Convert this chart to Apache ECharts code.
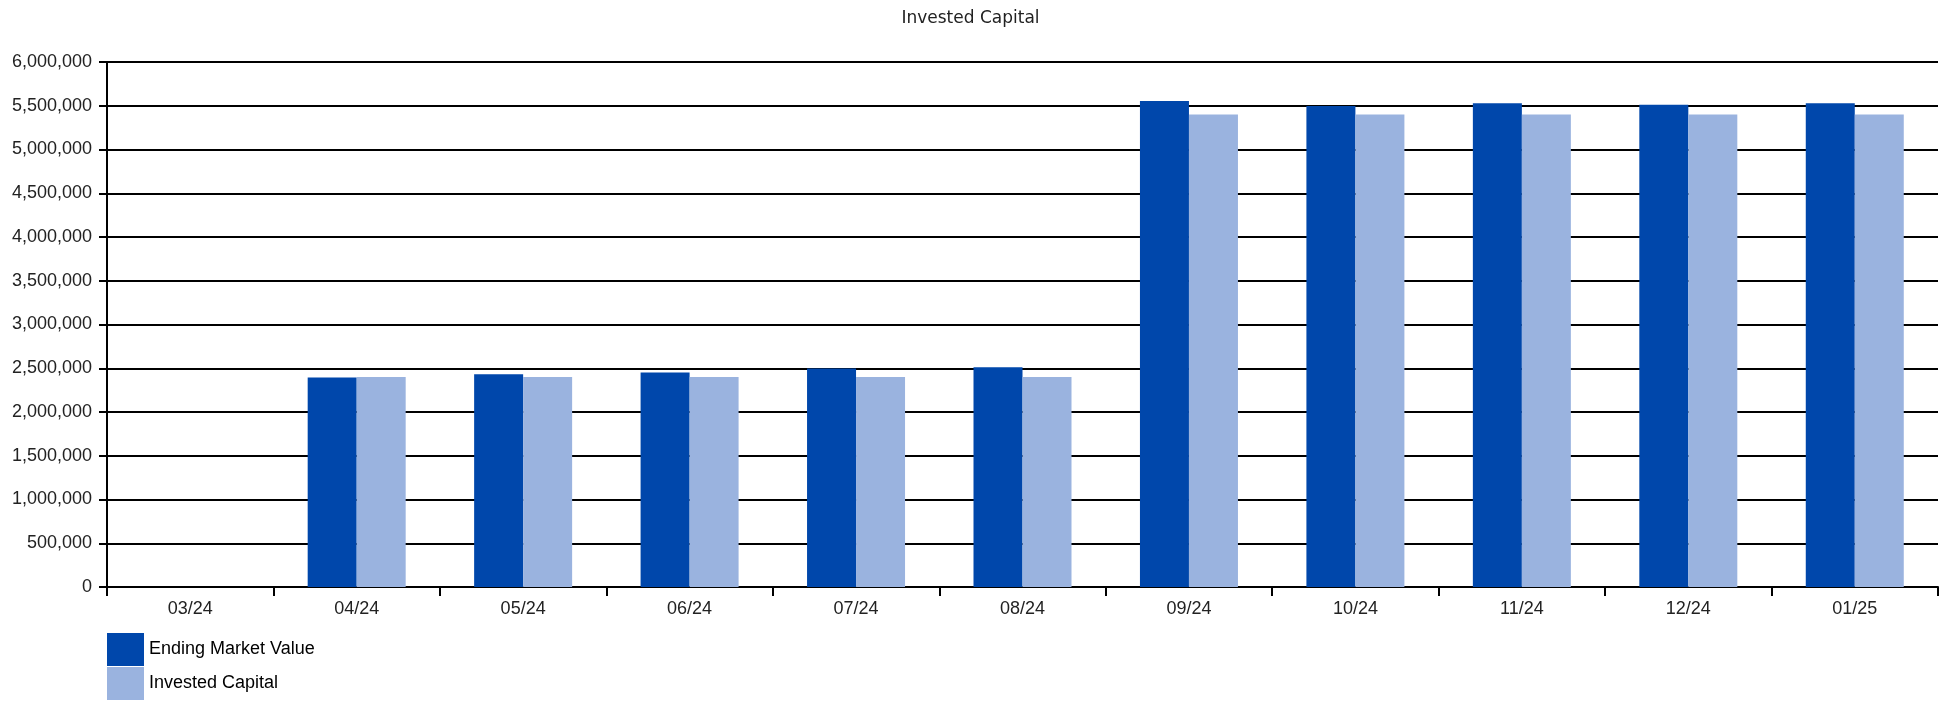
<!DOCTYPE html>
<html>
<head>
<meta charset="utf-8">
<script src="https://cdn.jsdelivr.net/npm/echarts@6/dist/echarts.min.js"></script>
<style>
html,body{margin:0;padding:0;background:#fff;}
#chart{width:1941px;height:702px;}
</style>
</head>
<body>
<div id="chart"></div>
<script>
const categories = ['03/24','04/24','05/24','06/24','07/24','08/24','09/24','10/24','11/24','12/24','01/25'];
const endingMarketValue = [null, 2394000, 2432000, 2451000, 2498000, 2511000, 5553000, 5496000, 5530000, 5511000, 5530000];
const investedCapital = [null, 2400000, 2400000, 2400000, 2400000, 2400000, 5400000, 5400000, 5400000, 5400000, 5400000];
const seriesNames = ['Ending Market Value', 'Invested Capital'];
const titleText = 'Invested Capital';

const chart = echarts.init(document.getElementById('chart'), null, {renderer:'canvas'});
const fmt = v => String(v).replace(/\B(?=(\d{3})+(?!\d))/g, ',');
chart.setOption({
  animation:false,
  backgroundColor:'#ffffff',
  title:{
    text:titleText, left:'center', top:5,
    textStyle:{fontFamily:'DejaVu Sans', fontSize:17, fontWeight:'normal', color:'#222'}
  },
  legend:{
    orient:'vertical', left:107, top:633, padding:0, height:69,
    itemWidth:37, itemHeight:33, itemGap:1,
    icon:'rect',
    textStyle:{fontFamily:'Liberation Sans, Arial', fontSize:18, color:'#000'},
    data:seriesNames
  },
  grid:{left:107, right:3, top:62, bottom:115, containLabel:false},
  xAxis:{
    type:'category', data:categories,
    axisLine:{lineStyle:{color:'#000', width:2}},
    axisTick:{show:true, length:9, lineStyle:{color:'#000', width:2}},
    axisLabel:{fontFamily:'Liberation Sans, Arial', fontSize:18, color:'#222', margin:13}
  },
  yAxis:{
    type:'value', min:0, max:6000000, interval:500000,
    axisLine:{show:true, lineStyle:{color:'#000', width:2}},
    axisTick:{show:true, length:8, lineStyle:{color:'#000', width:2}},
    splitLine:{show:true, lineStyle:{color:'#000', width:2}},
    axisLabel:{fontFamily:'Liberation Sans, Arial', fontSize:18, color:'#222', margin:15, formatter:fmt}
  },
  series:[
    {name:seriesNames[0], type:'bar', data:endingMarketValue, barWidth:49, barGap:'0%', itemStyle:{color:'#0047AB'}},
    {name:seriesNames[1], type:'bar', data:investedCapital, barWidth:49, barGap:'0%', itemStyle:{color:'#9AB3DF'}}
  ]
});
</script>
</body>
</html>
